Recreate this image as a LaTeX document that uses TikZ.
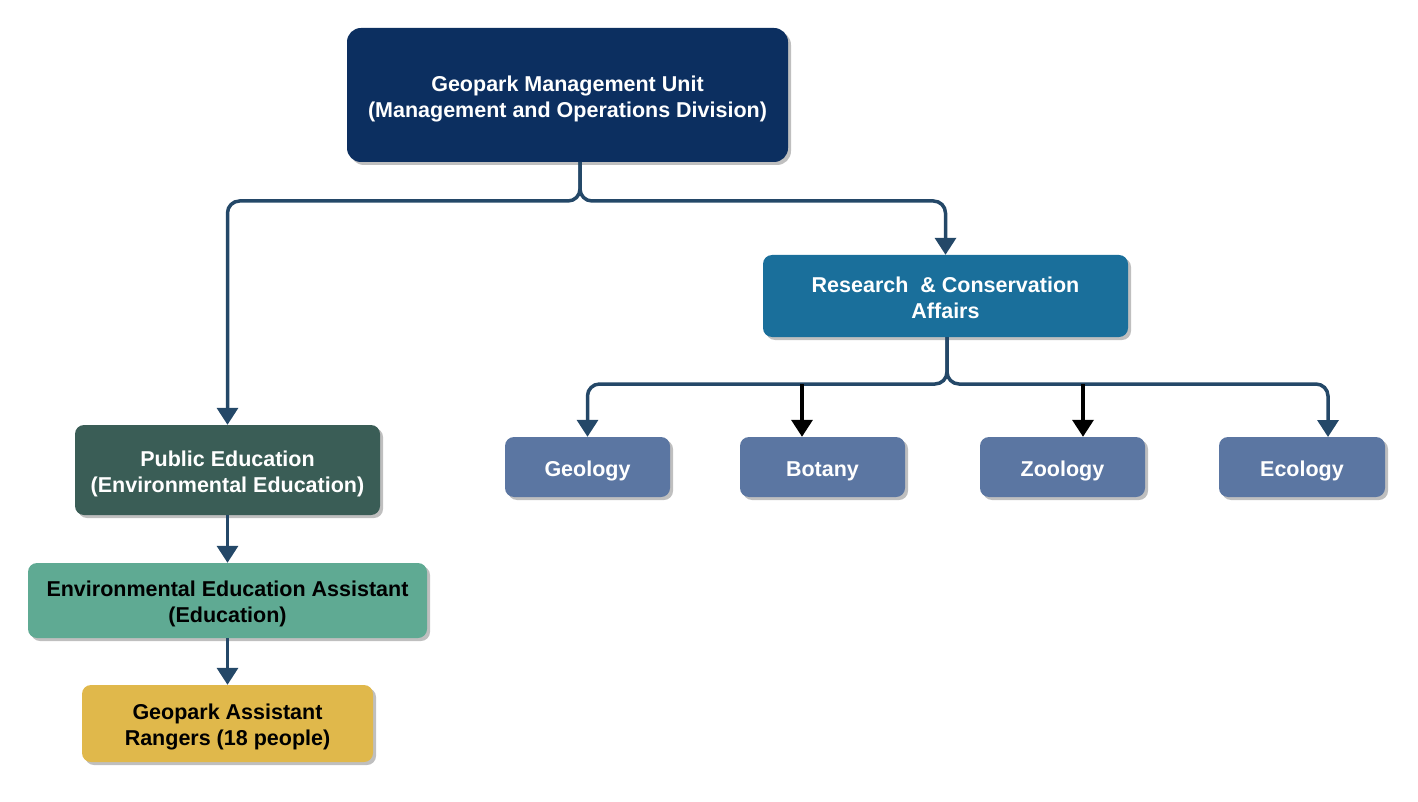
\documentclass[tikz,border=0pt]{standalone}
\usepackage{fontspec}
\setmainfont{Liberation Sans}
\usetikzlibrary{arrows.meta,shadows,calc}
\definecolor{navy}{HTML}{0C2F60}
\definecolor{teal}{HTML}{1A6F9B}
\definecolor{slate}{HTML}{5B76A2}
\definecolor{dkgreen}{HTML}{3A5D56}
\definecolor{mint}{HTML}{5FAA93}
\definecolor{gold}{HTML}{E0B84B}
\definecolor{conn}{HTML}{244868}
\newcommand{\lbl}[1]{\raisebox{-4pt}[\height][\depth]{\begin{tabular}{@{}c@{}}#1\end{tabular}}}
\tikzset{
  box/.style={rectangle, rounded corners=9pt, inner sep=0pt, align=center,
    font=\bfseries\fontsize{21.5}{26}\selectfont,
    drop shadow={shadow xshift=3pt, shadow yshift=-3pt, opacity=0.25, fill=black}},
  wline/.style={conn, line width=3.5pt, rounded corners=12pt,
    -{Triangle[width=21pt,length=17pt]}},
  bline/.style={black, line width=3.5pt,
    -{Triangle[width=21pt,length=17pt]}},
}
\begin{document}
\begin{tikzpicture}[x=1pt,y=-1pt]
\useasboundingbox (0,0) rectangle (1418,802);
\node[box, fill=navy, text=white, minimum width=441pt, minimum height=134pt, rounded corners=14pt] (top) at (567.5,95)
  {\lbl{Geopark Management Unit\\(Management and Operations Division)}};
\node[box, fill=teal, text=white, minimum width=365pt, minimum height=82pt] (rc) at (945.5,296)
  {\lbl{Research \ \& Conservation\\Affairs}};
\node[box, fill=slate, text=white, minimum width=165pt, minimum height=60pt] (geo) at (587.5,467) {\lbl{Geology}};
\node[box, fill=slate, text=white, minimum width=165pt, minimum height=60pt] (bot) at (822.5,467) {\lbl{Botany}};
\node[box, fill=slate, text=white, minimum width=165pt, minimum height=60pt] (zoo) at (1062.5,467) {\lbl{Zoology}};
\node[box, fill=slate, text=white, minimum width=166pt, minimum height=60pt] (eco) at (1302,467) {\lbl{Ecology}};
\node[box, fill=dkgreen, text=white, minimum width=305pt, minimum height=90pt] (pe) at (227.5,470)
  {\lbl{Public Education\\(Environmental Education)}};
\node[box, fill=mint, text=black, minimum width=399pt, minimum height=75pt] (eea) at (227.5,600.5)
  {\lbl{Environmental Education Assistant\\(Education)}};
\node[box, fill=gold, text=black, minimum width=291pt, minimum height=77pt] (rng) at (227.5,723.5)
  {\lbl{Geopark Assistant\\Rangers (18 people)}};
% connectors
\coordinate (ts) at (580,162);
\coordinate (tj) at (580,201);
\draw[wline] (ts) -- (tj) -- (pe.north |- tj) -- (pe.north);
\draw[wline] (ts) -- (tj) -- (rc.north |- tj) -- (rc.north);
\coordinate (rs) at (947,337);
\coordinate (rj) at (947,384);
\draw[wline] (rs) -- (rj) -- (geo.north |- rj) -- (geo.north);
\draw[wline] (rs) -- (rj) -- (1328,384) -- (1328,437);
\coordinate (b1) at (802,384);
\coordinate (z1) at (1083,384);
\draw[bline] (b1) -- (b1 |- bot.north);
\draw[bline] (z1) -- (z1 |- zoo.north);
\draw[conn, line width=3.5pt, -{Triangle[width=21pt,length=17pt]}] (pe.south) -- (eea.north);
\draw[conn, line width=3.5pt, -{Triangle[width=21pt,length=17pt]}] (eea.south) -- (rng.north);
\end{tikzpicture}
\end{document}
